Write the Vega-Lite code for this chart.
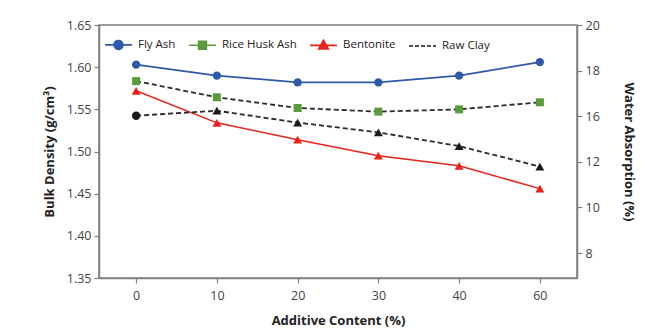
{
  "$schema": "https://vega.github.io/schema/vega-lite/v6.json",
  "width": 478,
  "height": 253,
  "autosize": "none",
  "padding": {"left": 99, "top": 25, "right": 86, "bottom": 58},
  "background": "white",
  "config": {
    "font": "Open Sans",
    "view": {"stroke": "#7f7f7f", "strokeWidth": 1.5},
    "axis": {
      "labelFont": "Open Sans", "titleFont": "Open Sans",
      "labelFontSize": 12.5, "labelColor": "#444444",
      "titleFontSize": 13, "titleFontWeight": "bold", "titleColor": "#222222",
      "domainColor": "#7f7f7f", "domainWidth": 1.5,
      "tickColor": "#7f7f7f", "tickWidth": 1.2, "tickSize": 5,
      "grid": false
    }
  },
  "data": {
    "values": [
      {"content": 0, "series": "Fly Ash", "property": "Bulk Density", "value": 1.603},
      {"content": 10, "series": "Fly Ash", "property": "Bulk Density", "value": 1.590},
      {"content": 20, "series": "Fly Ash", "property": "Bulk Density", "value": 1.582},
      {"content": 30, "series": "Fly Ash", "property": "Bulk Density", "value": 1.582},
      {"content": 40, "series": "Fly Ash", "property": "Bulk Density", "value": 1.590},
      {"content": 60, "series": "Fly Ash", "property": "Bulk Density", "value": 1.606},
      {"content": 0, "series": "Bentonite", "property": "Bulk Density", "value": 1.572},
      {"content": 10, "series": "Bentonite", "property": "Bulk Density", "value": 1.534},
      {"content": 20, "series": "Bentonite", "property": "Bulk Density", "value": 1.514},
      {"content": 30, "series": "Bentonite", "property": "Bulk Density", "value": 1.495},
      {"content": 40, "series": "Bentonite", "property": "Bulk Density", "value": 1.483},
      {"content": 60, "series": "Bentonite", "property": "Bulk Density", "value": 1.456},
      {"content": 0, "series": "Rice Husk Ash", "property": "Water Absorption", "value": 17.54},
      {"content": 10, "series": "Rice Husk Ash", "property": "Water Absorption", "value": 16.83},
      {"content": 20, "series": "Rice Husk Ash", "property": "Water Absorption", "value": 16.36},
      {"content": 30, "series": "Rice Husk Ash", "property": "Water Absorption", "value": 16.20},
      {"content": 40, "series": "Rice Husk Ash", "property": "Water Absorption", "value": 16.30},
      {"content": 60, "series": "Rice Husk Ash", "property": "Water Absorption", "value": 16.61},
      {"content": 0, "series": "Bentonite", "property": "Water Absorption", "value": 16.02},
      {"content": 10, "series": "Bentonite", "property": "Water Absorption", "value": 16.24},
      {"content": 20, "series": "Bentonite", "property": "Water Absorption", "value": 15.72},
      {"content": 30, "series": "Bentonite", "property": "Water Absorption", "value": 15.29},
      {"content": 40, "series": "Bentonite", "property": "Water Absorption", "value": 14.69},
      {"content": 60, "series": "Bentonite", "property": "Water Absorption", "value": 13.79}
    ]
  },
  "encoding": {
    "x": {
      "field": "content", "type": "ordinal",
      "scale": {"type": "point", "padding": 0.46},
      "axis": {"title": "Additive Content (%)", "labelAngle": 0, "labelPadding": 6, "titlePadding": 13}
    }
  },
  "layer": [
    {
      "transform": [{"filter": "datum.property === 'Bulk Density'"}],
      "encoding": {
        "y": {
          "field": "value", "type": "quantitative",
          "scale": {"domain": [1.35, 1.65], "nice": false, "zero": false},
          "axis": {"title": "Bulk Density (g/cm³)", "values": [1.35, 1.4, 1.45, 1.5, 1.55, 1.6, 1.65], "format": ".2f", "labelPadding": 3, "titlePadding": 10}
        }
      },
      "layer": [
        {"transform": [{"filter": "datum.series === 'Fly Ash'"}], "mark": {"type": "line", "strokeWidth": 1.8, "color": "#2e59a8"}},
        {"transform": [{"filter": "datum.series === 'Bentonite'"}], "mark": {"type": "line", "strokeWidth": 1.5, "color": "#e8231d"}},
        {"transform": [{"filter": "datum.series === 'Fly Ash'"}], "mark": {"type": "point", "shape": "circle", "filled": true, "size": 70, "opacity": 1, "color": "#2e59a8"}},
        {"transform": [{"filter": "datum.series === 'Bentonite'"}], "mark": {"type": "point", "shape": "triangle-up", "filled": true, "size": 80, "opacity": 1, "color": "#e8231d"}},
        {
          "transform": [{"filter": "false"}],
          "mark": {"type": "point", "filled": true, "opacity": 1, "strokeWidth": 1.6},
          "encoding": {
            "color": {
              "field": "series", "type": "nominal",
              "scale": {"domain": ["Fly Ash", "Rice Husk Ash", "Bentonite", "Raw Clay"], "range": ["#2e59a8", "#5a9a3c", "#e8231d", "transparent"]},
              "legend": {
                "title": null, "orient": "top-left", "offset": 5, "direction": "horizontal",
                "padding": 0, "symbolSize": 729, "labelFontSize": 11.5, "labelColor": "#222222",
                "labelFont": "Open Sans", "labelOffset": 5, "columnPadding": 9,
                "symbolStrokeWidth": 1.6, "symbolOpacity": 1
              }
            },
            "stroke": {
              "field": "series", "type": "nominal",
              "scale": {"domain": ["Fly Ash", "Rice Husk Ash", "Bentonite", "Raw Clay"], "range": ["#2e59a8", "#5a9a3c", "#e8231d", "#1a1a1a"]}
            },
            "shape": {
              "field": "series", "type": "nominal",
              "scale": {"domain": ["Fly Ash", "Rice Husk Ash", "Bentonite", "Raw Clay"], "range": [
                "M-1,0L1,0M-0.33,0A0.33,0.33 0 1,0 0.33,0A0.33,0.33 0 1,0 -0.33,0Z",
                "M-1,0L1,0M-0.29,-0.29L0.29,-0.29L0.29,0.29L-0.29,0.29Z",
                "M-1,0L1,0M0,-0.38L0.36,0.26L-0.36,0.26Z",
                "M-1,0L1,0"
              ]}
            },
            "strokeDash": {
              "field": "series", "type": "nominal",
              "scale": {"domain": ["Fly Ash", "Rice Husk Ash", "Bentonite", "Raw Clay"], "range": [[1, 0], [1, 0], [1, 0], [4, 2]]}
            }
          }
        }
      ]
    },
    {
      "transform": [{"filter": "datum.property === 'Water Absorption'"}],
      "encoding": {
        "y": {
          "field": "value", "type": "quantitative",
          "scale": {"domain": [8.904, 20], "nice": false, "zero": false},
          "axis": {
            "orient": "right", "title": "Water Absorption (%)",
            "values": [10, 12, 14, 16, 18, 20],
            "labelExpr": "datum.value == 14 ? '12' : datum.value == 12 ? '10' : datum.value == 10 ? '8' : datum.label",
            "labelPadding": 3, "titlePadding": 22
          }
        }
      },
      "layer": [
        {"mark": {"type": "line", "color": "#2a2a2a", "strokeWidth": 1.8, "strokeDash": [5, 3]}, "encoding": {"detail": {"field": "series"}}},
        {"transform": [{"filter": "datum.series === 'Rice Husk Ash'"}], "mark": {"type": "point", "shape": "square", "filled": true, "size": 64, "color": "#5a9a3c", "opacity": 1}},
        {"transform": [{"filter": "datum.series === 'Bentonite' && datum.content > 0"}], "mark": {"type": "point", "shape": "triangle-up", "filled": true, "size": 80, "color": "#1a1a1a", "opacity": 1}},
        {"transform": [{"filter": "datum.series === 'Bentonite' && datum.content === 0"}], "mark": {"type": "point", "shape": "circle", "filled": true, "size": 70, "color": "#1a1a1a", "opacity": 1}}
      ]
    }
  ],
  "resolve": {"scale": {"y": "independent"}}
}
